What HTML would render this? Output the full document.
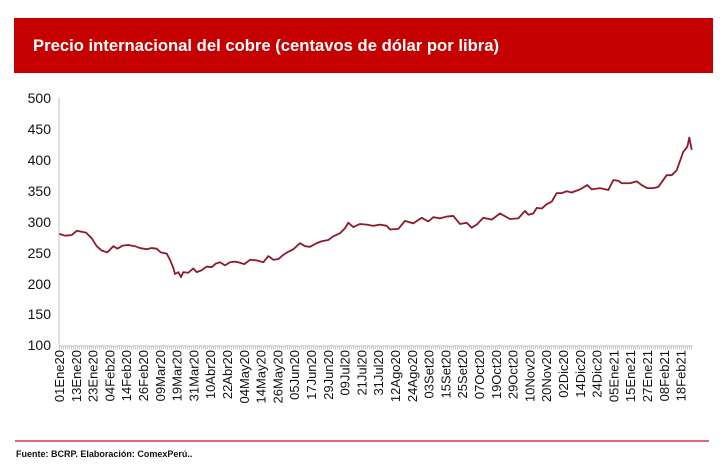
<!DOCTYPE html>
<html><head><meta charset="utf-8"><style>
html,body{margin:0;padding:0;background:#fff;}
svg{display:block;font-family:"Liberation Sans",Arial,sans-serif;}
</style></head><body>
<svg width="727" height="473" viewBox="0 0 727 473" xmlns="http://www.w3.org/2000/svg">
<rect x="14" y="18" width="699" height="55" fill="#c40000"/>
<text x="33" y="51" fill="#fff" font-size="16.5" font-weight="bold" textLength="466" lengthAdjust="spacingAndGlyphs">Precio internacional del cobre (centavos de dólar por libra)</text>
<g font-size="14" fill="#111" text-anchor="end">
<text x="51" y="103">500</text><text x="51" y="134">450</text><text x="51" y="165">400</text>
<text x="51" y="196">350</text><text x="51" y="227">300</text><text x="51" y="258">250</text>
<text x="51" y="289">200</text><text x="51" y="319">150</text><text x="51" y="350">100</text>
</g>
<line x1="59" y1="98" x2="59" y2="346" stroke="#c4cccc" stroke-width="1.2"/>
<line x1="59" y1="346" x2="693" y2="346" stroke="#c4cccc" stroke-width="1.2"/>
<line x1="59" y1="348" x2="693" y2="348" stroke="#c4cccc" stroke-width="3" stroke-dasharray="1 1"/>
<g transform="translate(0,345) scale(1,-0.6175) translate(0,-100)">
<polyline fill="none" stroke="#8a1a2e" stroke-width="1.8" vector-effect="non-scaling-stroke" stroke-linejoin="round" points="59.3,280 65,277 71.7,278 76.7,285 86,282 91.7,273 96.7,260 101.7,253 107.3,250 113.3,260 117.3,256 122.7,261 128.3,262 135,260 140,257 146.7,255 151.7,257 156.7,256 160.7,250 166.7,248 170,238 173.3,225 175,215 178.3,218 181,210 183.3,218 188.3,217 193.3,224 196.7,218 201.7,221 206.7,227 211.7,226 216,232 220,234 225,229 230,234 235,235 238.3,234 244.3,231 250,238 256.7,237 263.3,234 268.3,244 273.3,238 278.3,239 283.3,246 288.3,251 293.3,255 300,265 305,260 310,259 316.7,265 321.7,268 328.3,270 333.3,276 340,281 345,289 348.3,298 353.3,291 360,296 366.7,295 373.3,293 380,295 386.7,293 390,287 398.3,288 405,301 413.3,297 421.7,306 428.3,300 433.3,307 440,305 446.7,308 453.3,309 460,296 466.7,298 471.7,290 476.7,295 483.3,306 491.7,303 500,313 510,304 518.3,305 525,317 528.3,311 533.3,313 536.7,322 541.7,321 546.7,328 551.7,332 556.7,346 561.7,346 566.7,349 571.7,347 580,352 587.3,359 591.7,352 600,354 608.3,351 613.3,367 618.3,366 621.7,362 630,362 636.7,365 641.7,359 647.3,354 653.3,354 658.3,356 666.7,375 671.7,375 676.7,383 683.3,413 687.3,421 689.3,436 691.7,416"/>
</g>
<g font-size="13" fill="#111" text-anchor="end">
<text transform="translate(64,350) rotate(-90)">01Ene20</text>
<text transform="translate(80.8,350) rotate(-90)">13Ene20</text>
<text transform="translate(97.6,350) rotate(-90)">23Ene20</text>
<text transform="translate(114.4,350) rotate(-90)">04Feb20</text>
<text transform="translate(131.2,350) rotate(-90)">14Feb20</text>
<text transform="translate(148,350) rotate(-90)">26Feb20</text>
<text transform="translate(164.8,350) rotate(-90)">09Mar20</text>
<text transform="translate(181.6,350) rotate(-90)">19Mar20</text>
<text transform="translate(198.4,350) rotate(-90)">31Mar20</text>
<text transform="translate(215.2,350) rotate(-90)">10Abr20</text>
<text transform="translate(232,350) rotate(-90)">22Abr20</text>
<text transform="translate(248.8,350) rotate(-90)">04May20</text>
<text transform="translate(265.6,350) rotate(-90)">14May20</text>
<text transform="translate(282.4,350) rotate(-90)">26May20</text>
<text transform="translate(299.2,350) rotate(-90)">05Jun20</text>
<text transform="translate(316,350) rotate(-90)">17Jun20</text>
<text transform="translate(332.8,350) rotate(-90)">29Jun20</text>
<text transform="translate(349.6,350) rotate(-90)">09Jul20</text>
<text transform="translate(366.4,350) rotate(-90)">21Jul20</text>
<text transform="translate(383.2,350) rotate(-90)">31Jul20</text>
<text transform="translate(400,350) rotate(-90)">12Ago20</text>
<text transform="translate(416.8,350) rotate(-90)">24Ago20</text>
<text transform="translate(433.6,350) rotate(-90)">03Set20</text>
<text transform="translate(450.4,350) rotate(-90)">15Set20</text>
<text transform="translate(467.2,350) rotate(-90)">25Set20</text>
<text transform="translate(484,350) rotate(-90)">07Oct20</text>
<text transform="translate(500.8,350) rotate(-90)">19Oct20</text>
<text transform="translate(517.6,350) rotate(-90)">29Oct20</text>
<text transform="translate(534.4,350) rotate(-90)">10Nov20</text>
<text transform="translate(551.2,350) rotate(-90)">20Nov20</text>
<text transform="translate(568,350) rotate(-90)">02Dic20</text>
<text transform="translate(584.8,350) rotate(-90)">14Dic20</text>
<text transform="translate(601.6,350) rotate(-90)">24Dic20</text>
<text transform="translate(618.4,350) rotate(-90)">05Ene21</text>
<text transform="translate(635.2,350) rotate(-90)">15Ene21</text>
<text transform="translate(652,350) rotate(-90)">27Ene21</text>
<text transform="translate(668.8,350) rotate(-90)">08Feb21</text>
<text transform="translate(685.6,350) rotate(-90)">18Feb21</text>
</g>
<line x1="15" y1="441" x2="709" y2="441" stroke="#e0304a" stroke-width="1.5"/>
<text x="16" y="457" font-size="9" font-weight="bold" fill="#111">Fuente: BCRP. Elaboración: ComexPerú..</text>
</svg>
</body></html>
